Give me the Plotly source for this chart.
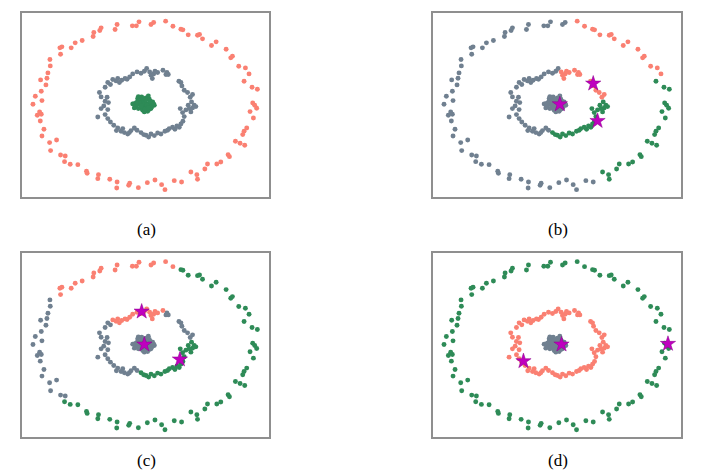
import plotly.graph_objects as go

# ---- data (same point set in every panel; coordinates) ----
outer_x = [344, 356, 364, 400, 408, 444, 466, 490, 496, 512, 540, 546, 555, 582, 596, 626, 640, 645, 664, 684,
           695, 680, 704, 720, 706, 712, 718, 698, 708, 688, 680, 676, 654, 668, 682, 632, 636, 610, 598, 570,
           562, 520, 538, 540, 492, 470, 442, 432, 412, 389, 362, 336, 333, 298, 297, 276, 242, 240, 206, 208,
           180, 157, 140, 142, 128, 98, 116, 95, 72, 78, 67, 70, 58, 65, 45, 72, 52, 70, 84, 68,
           87, 90, 97, 96, 128, 126, 132, 160, 172, 193, 226, 228, 246, 250, 292, 298]
outer_y = [52, 52, 40, 48, 42, 38, 53, 62, 64, 79, 80, 78, 91, 111, 100, 122, 148, 143, 173, 178,
           196, 218, 236, 242, 283, 290, 299, 309, 328, 358, 368, 378, 398, 404, 410, 438, 444, 460, 466, 466,
           481, 490, 498, 512, 520, 516, 543, 528, 514, 522, 537, 524, 530, 520, 538, 512, 498, 510, 488, 494,
           468, 467, 459, 442, 439, 426, 394, 402, 382, 362, 337, 317, 320, 310, 287, 276, 263, 248, 229, 214,
           209, 193, 172, 153, 137, 118, 115, 118, 103, 96, 84, 72, 66, 58, 63, 48]
outer_lab_b = ["k"] * 5 + ["r"] * 16 + ["g"] * 23 + ["k"] * 52
outer_lab_c = ["r"] * 7 + ["g"] * 56 + ["k"] * 21 + ["r"] * 12

middle_x = [262, 270, 278, 285, 295, 300, 305, 312, 322, 328, 336, 345, 358, 370, 380, 387, 396, 400, 404, 408,
            412, 420, 436, 445, 448, 452, 484, 490, 493, 500, 510, 525, 518, 522, 512, 535, 530, 525, 520, 515,
            505, 488, 495, 500, 496, 490, 485, 478, 472, 465, 455, 450, 442, 430, 420, 410, 400, 393, 385, 378,
            370, 358, 350, 340, 335, 330, 320, 315, 310, 296, 300, 288, 278, 270, 262, 240, 250, 270, 258, 272,
            262, 268, 250, 245]
middle_y = [236, 222, 228, 213, 217, 210, 222, 215, 210, 212, 205, 196, 190, 194, 188, 180, 190, 200, 210, 196,
            188, 192, 185, 198, 192, 198, 218, 222, 232, 245, 252, 258, 266, 280, 290, 294, 290, 298, 310, 300,
            304, 300, 312, 324, 338, 346, 356, 352, 362, 356, 360, 365, 368, 376, 373, 381, 376, 385, 380, 378,
            372, 365, 358, 366, 372, 376, 372, 360, 368, 366, 358, 350, 340, 330, 318, 325, 300, 303, 292, 282,
            278, 266, 265, 252]
middle_lab_b = ["k"] * 16 + ["r"] * 17 + ["g"] * 28 + ["k"] * 23
middle_lab_c = ["k"] * 3 + ["r"] * 20 + ["k"] * 10 + ["g"] * 28 + ["k"] * 23

inner_x = [350, 360, 372, 385, 395, 405, 410, 400, 390, 375, 362, 355, 368, 380, 390, 378, 365, 385, 398, 372,
           392, 360, 402, 350, 384, 370, 395, 380, 408, 345, 362, 375, 388, 366, 398, 356, 382, 371, 392, 376]
inner_y = [285, 270, 265, 268, 272, 280, 290, 300, 308, 305, 300, 292, 280, 280, 285, 293, 288, 296, 290, 273,
           262, 278, 295, 298, 275, 298, 302, 310, 286, 286, 264, 285, 290, 283, 278, 282, 302, 292, 298, 270]

# cluster centres (stars) per panel
star_x = {"b": [392, 492, 505], "c": [372, 380, 487], "d": [397, 283, 716]}
star_y = {"b": [287, 225, 337], "c": [188, 287, 332], "d": [287, 337, 285]}

panel_names = ["(a)", "(b)", "(c)", "(d)"]

# ---- style ----
COL = {"r": "#FA8072", "g": "#2E8B57", "k": "#708090"}
STAR = "#BF00BF"

labels = {
    "a": (["r"] * len(outer_x), ["k"] * len(middle_x), ["g"] * len(inner_x)),
    "b": (outer_lab_b, middle_lab_b, ["k"] * len(inner_x)),
    "c": (outer_lab_c, middle_lab_c, ["k"] * len(inner_x)),
    "d": (["g"] * len(outer_x), ["r"] * len(middle_x), ["k"] * len(inner_x)),
}

# the page body adds an 8px margin; work in figure pixels = screen pixels - 8
OFF = 8
W, H = 717, 467
boxes = {  # screen pixel boxes: x0, x1, ytop, ybottom
    "a": (22, 269, 12.5, 197),
    "b": (433, 681, 12.5, 197),
    "c": (22, 269, 253, 437),
    "d": (433, 681, 253, 437),
}

fig = go.Figure()
groups = [(outer_x, outer_y), (middle_x, middle_y), (inner_x, inner_y)]
for i, key in enumerate(["a", "b", "c", "d"]):
    ax = "" if i == 0 else str(i + 1)
    for gi, (gx, gy) in enumerate(groups):
        lab = labels[key][gi]
        for c in ["k", "r", "g"]:
            xs = [x for x, l in zip(gx, lab) if l == c]
            ys = [y for y, l in zip(gy, lab) if l == c]
            if not xs:
                continue
            fig.add_trace(go.Scatter(x=xs, y=ys, mode="markers", xaxis="x" + ax, yaxis="y" + ax,
                                     marker=dict(size=4.9, color=COL[c], line=dict(width=0)),
                                     showlegend=False, hoverinfo="skip"))
    if key in star_x:
        fig.add_trace(go.Scatter(x=star_x[key], y=star_y[key], mode="markers", xaxis="x" + ax, yaxis="y" + ax,
                                 marker=dict(symbol="star", size=11.5, color=STAR,
                                             line=dict(width=0.5, color="#8a008a")),
                                 showlegend=False, hoverinfo="skip"))
    x0, x1, yt, yb = [v - OFF for v in boxes[key]]
    axis_common = dict(showticklabels=False, showgrid=False, zeroline=False, ticks="",
                       showline=True, mirror=True, linecolor="#8f8f8f", linewidth=1.5)
    fig.layout["xaxis" + ax] = dict(domain=[x0 / W, x1 / W], range=[12, 755],
                                    anchor="y" + ax, **axis_common)
    fig.layout["yaxis" + ax] = dict(domain=[1 - yb / H, 1 - yt / H], range=[565, 12],
                                    anchor="x" + ax, **axis_common)
    lab_y = (229 if key in "ab" else 460) - OFF
    fig.add_annotation(text=panel_names[i], xref="paper", yref="paper",
                       x=(x0 + x1) / 2 / W + 0.002,
                       y=1 - lab_y / H,
                       showarrow=False, xanchor="center", yanchor="middle",
                       font=dict(family="Liberation Serif", size=17, color="#000"))

fig.update_layout(width=W, height=H, margin=dict(l=0, r=0, t=0, b=0),
                  paper_bgcolor="white", plot_bgcolor="white")
fig.write_html("out.html")
